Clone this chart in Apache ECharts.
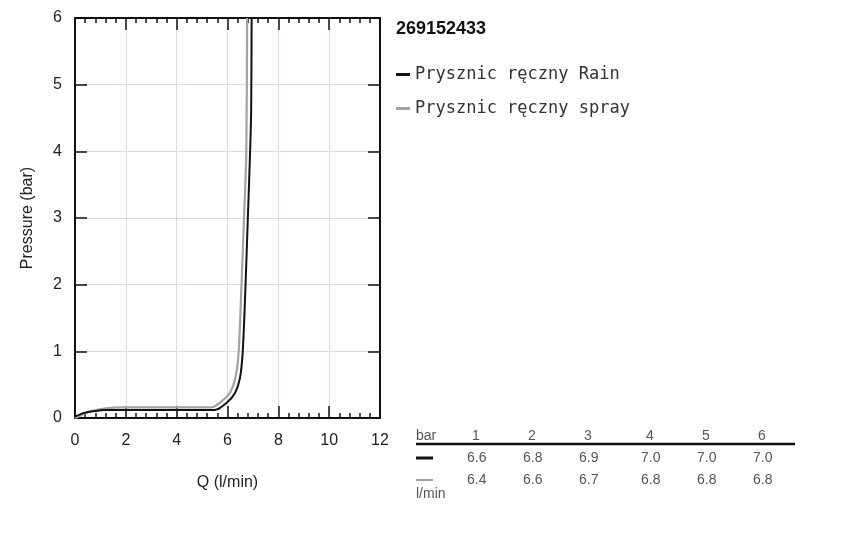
<!DOCTYPE html>
<html><head><meta charset="utf-8">
<script src="https://cdn.jsdelivr.net/npm/echarts@6/dist/echarts.min.js"></script>
<style>html,body{margin:0;padding:0;background:#fff}#c{width:850px;height:538px}</style>
</head><body><div id="c"></div>
<script>
// Data
const productCode = '269152433';
const seriesNames = ['Prysznic ręczny Rain', 'Prysznic ręczny spray'];
const rainQ =  [0, 0.3, 0.7, 1.2, 5.5, 5.97, 6.29, 6.49, 6.60, 6.71, 6.80, 6.89, 6.93, 6.95];
const rainP =  [0.02, 0.07, 0.1, 0.12, 0.12, 0.23, 0.37, 0.6, 1.0, 2.0, 3.0, 4.0, 4.6, 6.0];
const sprayQ = [0, 0.6, 1.3, 1.9, 5.35, 5.8, 6.1, 6.31, 6.44, 6.55, 6.65, 6.74, 6.77];
const sprayP = [0, 0.1, 0.15, 0.16, 0.16, 0.26, 0.38, 0.6, 1.0, 2.0, 3.0, 4.0, 6.0];
const tablePressures = ['1', '2', '3', '4', '5', '6'];
const tableRain = ['6.6', '6.8', '6.9', '7.0', '7.0', '7.0'];
const tableSpray = ['6.4', '6.6', '6.7', '6.8', '6.8', '6.8'];
const xTicks = [0, 2, 4, 6, 8, 10, 12];
const yTicks = [0, 1, 2, 3, 4, 5, 6];

const chart = echarts.init(document.getElementById('c'), null, {renderer: 'canvas'});
const font = 'Liberation Sans, Arial, sans-serif';
const colors = ['#111111', '#a3a3a3'];

const tickStyle = {color: '#111', width: 1.5};
function xAxisCfg(pos, showLabel) {
  return {
    type: 'value', position: pos, min: xTicks[0], max: xTicks[xTicks.length - 1], interval: 2,
    name: showLabel ? 'Q (l/min)' : '', nameLocation: 'middle', nameGap: 57,
    nameTextStyle: {fontFamily: font, fontSize: 16, color: '#222'},
    axisLine: {show: true, onZero: false, lineStyle: {color: '#111', width: 2}},
    axisTick: {show: true, inside: true, length: 12, lineStyle: tickStyle},
    minorTick: {show: true, splitNumber: 5, length: 5, lineStyle: tickStyle},
    axisLabel: {show: showLabel, fontFamily: font, fontSize: 16, color: '#222', margin: 15},
    splitLine: {show: showLabel, lineStyle: {color: '#d9dce6', width: 1}},
    minorSplitLine: {show: false}
  };
}
function yAxisCfg(pos, showLabel) {
  return {
    type: 'value', position: pos, min: yTicks[0], max: yTicks[yTicks.length - 1], interval: 1,
    name: showLabel ? 'Pressure (bar)' : '', nameLocation: 'middle', nameGap: 39, nameRotate: 90,
    nameTextStyle: {fontFamily: font, fontSize: 16, color: '#222'},
    axisLine: {show: true, onZero: false, lineStyle: {color: '#111', width: 2}},
    axisTick: {show: true, inside: true, length: 12, lineStyle: tickStyle},
    axisLabel: {show: showLabel, fontFamily: font, fontSize: 16, color: '#222', margin: 13},
    splitLine: {show: showLabel, lineStyle: {color: '#d9dce6', width: 1}}
  };
}

// table graphics
const colX = [472, 528, 584, 646, 702, 758];
const tFont = '14px ' + font;
const tColor = '#555';
const graphics = [];
graphics.push({type: 'text', left: 416, top: 429, style: {text: 'bar', font: tFont, fill: tColor}});
graphics.push({type: 'line', shape: {x1: 416, y1: 444, x2: 795, y2: 444}, style: {stroke: '#111', lineWidth: 2.5}});
graphics.push({type: 'line', shape: {x1: 416, y1: 458, x2: 433, y2: 458}, style: {stroke: colors[0], lineWidth: 3}});
graphics.push({type: 'line', shape: {x1: 416, y1: 480, x2: 433, y2: 480}, style: {stroke: colors[1], lineWidth: 2}});
graphics.push({type: 'text', left: 416, top: 487, style: {text: 'l/min', font: tFont, fill: tColor}});
tablePressures.forEach((p, i) => {
  graphics.push({type: 'text', left: colX[i], top: 429, style: {text: p, font: tFont, fill: tColor}});
  graphics.push({type: 'text', left: colX[i] - 5, top: 451, style: {text: tableRain[i], font: tFont, fill: tColor}});
  graphics.push({type: 'text', left: colX[i] - 5, top: 473, style: {text: tableSpray[i], font: tFont, fill: tColor}});
});

chart.setOption({
  animation: false,
  backgroundColor: '#fff',
  title: {text: productCode, left: 391, top: 15,
    textStyle: {fontFamily: font, fontWeight: 'bold', fontSize: 18, color: '#111'}},
  legend: {
    orient: 'vertical', left: 391, top: 61, itemWidth: 14, itemHeight: 3, itemGap: 17,
    icon: 'rect',
    textStyle: {fontFamily: 'DejaVu Sans Mono, monospace', fontSize: 17, color: '#333'},
    data: seriesNames
  },
  grid: {left: 75, right: 470, top: 18, bottom: 120, containLabel: false},
  xAxis: [xAxisCfg('bottom', true), xAxisCfg('top', false)],
  yAxis: [yAxisCfg('left', true), yAxisCfg('right', false)],
  series: [
    {name: seriesNames[1], type: 'line', xAxisIndex: 0, yAxisIndex: 0, showSymbol: false, smooth: 0.3,
      lineStyle: {color: colors[1], width: 2.2}, itemStyle: {color: colors[1]},
      data: sprayQ.map((q, i) => [q, sprayP[i]]), z: 3},
    {name: seriesNames[0], type: 'line', xAxisIndex: 0, yAxisIndex: 0, showSymbol: false, smooth: 0.3,
      lineStyle: {color: colors[0], width: 2}, itemStyle: {color: colors[0]},
      data: rainQ.map((q, i) => [q, rainP[i]]), z: 4}
  ],
  graphic: graphics
});
</script></body></html>
